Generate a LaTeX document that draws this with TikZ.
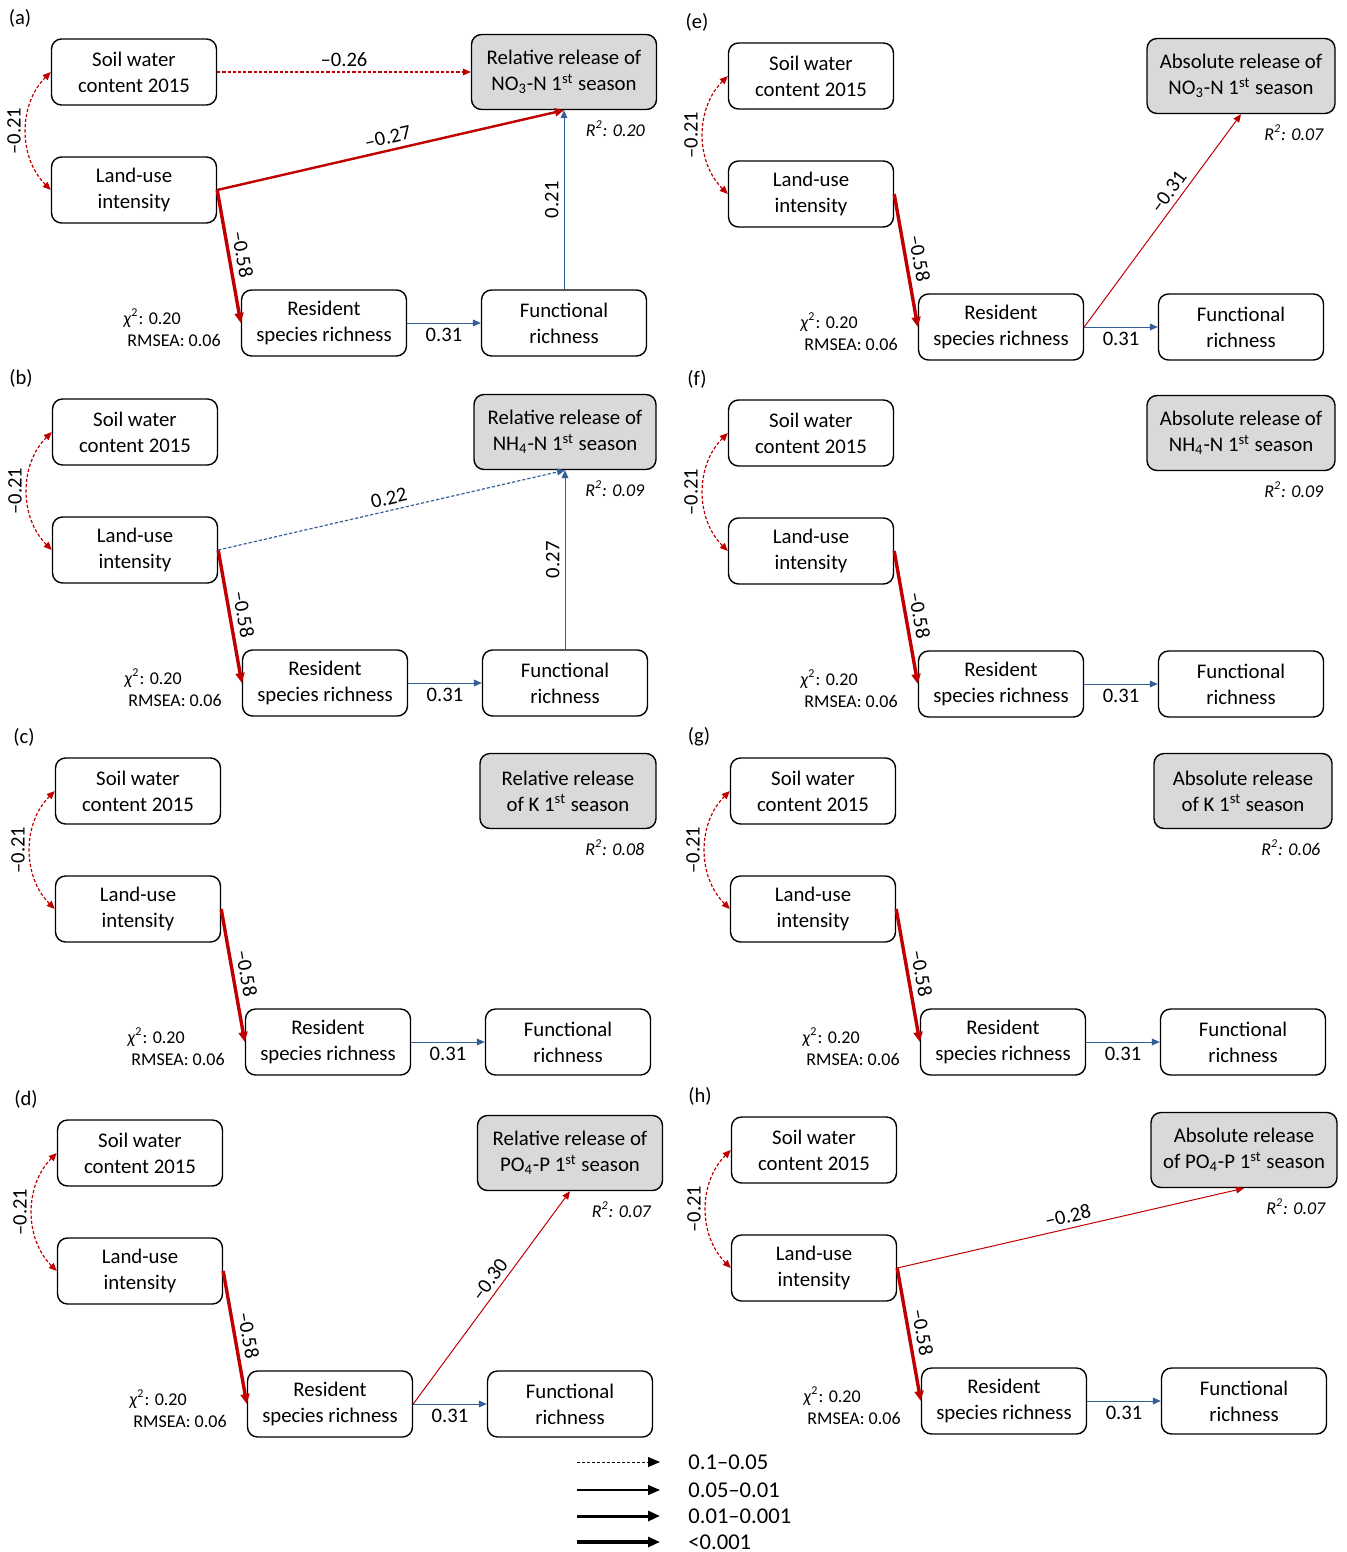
\documentclass[tikz,border=0pt]{standalone}
\usepackage{fontspec}
\setmainfont{Carlito}
\usetikzlibrary{arrows.meta}
\definecolor{semred}{RGB}{192,0,0}
\definecolor{semblue}{RGB}{52,94,150}
\definecolor{respgray}{RGB}{217,217,217}

\begin{document}
\begin{tikzpicture}[x=0.5pt,y=-0.5pt,>={Triangle[length=4pt,width=3.4pt]},
  var/.style={draw,rounded corners=5pt,line width=0.7pt,minimum width=82.5pt,
    minimum height=33pt,align=center,inner sep=1pt,font=\fontsize{10.4}{13}\selectfont},
  resp/.style={var,fill=respgray,minimum height=37.5pt},
  coef/.style={text=black,inner sep=2.5pt,font=\fontsize{10.3}{12}\selectfont},
  fitlab/.style={inner sep=0pt,anchor=west,font=\fontsize{9}{11}\selectfont},
  reddash/.style={->,semred,line width=0.6pt,dash pattern=on 1.6pt off 1pt},
  bluedash/.style={->,semblue,line width=0.6pt,dash pattern=on 1.6pt off 1pt},
  redlow/.style={->,semred,line width=0.5pt},
  bluelow/.style={->,semblue,line width=0.5pt},
  redmid/.style={-{Triangle[length=4.5pt,width=4pt]},semred,line width=1.2pt},
  redhigh/.style={-{Triangle[length=5pt,width=4.4pt]},semred,line width=1.7pt}]
 \useasboundingbox (0,0) rectangle (1347,1552);
 % the eight panels share one layout
 \foreach \p/\x/\y/\rw/\resp/\rsq in {%
   a/134/72/92.5pt/{Relative release of\\NO\textsubscript{3}-N 1\textsuperscript{st} season}/0.20,
   b/135/432/91pt/{Relative release of\\NH\textsubscript{4}-N 1\textsuperscript{st} season}/0.09,
   c/138/791/88pt/{Relative release\\of K 1\textsuperscript{st} season}/0.08,
   d/140/1153/92.5pt/{Relative release of\\PO\textsubscript{4}-P 1\textsuperscript{st} season}/0.07,
   e/811/76/94pt/{Absolute release of\\NO\textsubscript{3}-N 1\textsuperscript{st} season}/0.07,
   f/811/433/94pt/{Absolute release of\\NH\textsubscript{4}-N 1\textsuperscript{st} season}/0.09,
   g/813/791/89pt/{Absolute release\\of K 1\textsuperscript{st} season}/0.06,
   h/814/1150/93pt/{Absolute release\\of PO\textsubscript{4}-P 1\textsuperscript{st} season}/0.07}
 {
  \node[coef] (lab\p) at (\x-114,\y-54) {(\p)};
  \node[var] (sw\p) at (\x,\y) {Soil water\\content 2015};
  \node[var] (lu\p) at (\x,\y+118) {Land-use\\intensity};
  \node[var] (rs\p) at (\x+190,\y+251) {Resident\\species richness};
  \node[var] (fr\p) at (\x+430,\y+251) {Functional\\richness};
  \node[resp,minimum width=\rw] (re\p) at (\x+430,\y) {\resp};
  \node[fitlab,anchor=north east,font=\fontsize{9}{11}\itshape] (rsq\p)
    at ([xshift=-6pt,yshift=-5pt]re\p.south east) {R\textsuperscript{2}: \rsq};
  \node[fitlab] (chi\p) at (\x-11,\y+246) {\textit{χ}\textsuperscript{2}: 0.20};
  \node[fitlab] (rmsea\p) at (\x-7,\y+268) {RMSEA: 0.06};
  \draw[reddash,<->] (lu\p.west) to[bend left=45]
    node[midway,sloped,above,coef] {–0.21} (sw\p.west);
  \draw[redhigh] (lu\p.east) -- (rs\p.west) node[midway,sloped,above,coef] {–0.58};
  \draw[bluelow] (rs\p) -- (fr\p) node[midway,below,coef] {0.31};
 }
 % paths that differ between panels
 \draw[reddash] (swa) -- (rea) node[midway,above,coef] {–0.26};
 \draw[redmid] (lua.east) -- (rea.south) node[midway,sloped,above,coef] {–0.27};
 \draw[bluelow] (fra) -- (rea.south) node[midway,sloped,above,coef] {0.21};
 \draw[bluedash] (lub.east) -- (reb.south) node[midway,sloped,above,coef] {0.22};
 \draw[bluelow] (frb) -- (reb.south) node[midway,sloped,above,coef] {0.27};
 \draw[redlow] (rsd.east) -- (red.south) node[pos=0.55,sloped,above,coef] {–0.30};
 \draw[redlow] (rse.east) -- (ree.south) node[pos=0.6,sloped,above,coef] {–0.31};
 \draw[redlow] (luh.east) -- (reh.south) node[midway,sloped,above,coef] {–0.28};
 % legend
 \coordinate (lg1a) at (577,1462); \coordinate (lg1b) at (660,1462);
 \coordinate (lg2a) at (577,1490); \coordinate (lg2b) at (660,1490);
 \coordinate (lg3a) at (577,1516); \coordinate (lg3b) at (660,1516);
 \coordinate (lg4a) at (577,1542); \coordinate (lg4b) at (660,1542);
 \draw[-{Triangle[length=6pt,width=5pt]},line width=0.4pt,dash pattern=on 1.5pt off 1pt] (lg1a) -- (lg1b);
 \draw[-{Triangle[length=6pt,width=5pt]},line width=0.6pt] (lg2a) -- (lg2b);
 \draw[-{Triangle[length=6pt,width=5pt]},line width=1.5pt] (lg3a) -- (lg3b);
 \draw[-{Triangle[length=6pt,width=5pt]},line width=2.4pt] (lg4a) -- (lg4b);
 \foreach \i/\txt in {1/0.1–0.05,2/0.05–0.01,3/0.01–0.001,4/<0.001}
   \node[inner sep=0pt,anchor=west,font=\fontsize{11.3}{13}\selectfont] (lgt\i)
     at ([xshift=14pt]lg\i b) {\txt};
\end{tikzpicture}
\end{document}
